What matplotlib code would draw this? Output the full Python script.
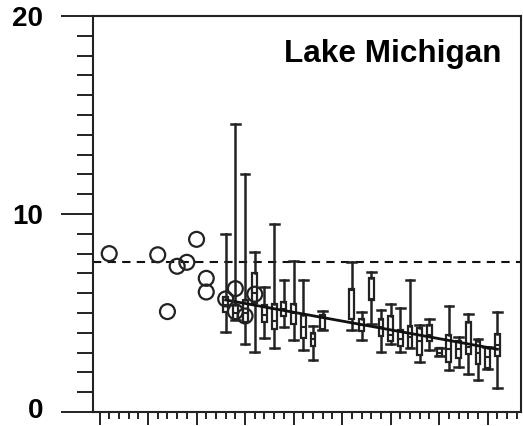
import matplotlib
matplotlib.use("Agg")
import matplotlib.pyplot as plt
from matplotlib.ticker import MultipleLocator
from matplotlib.transforms import ScaledTranslation

plt.rcParams['font.family'] = ['Liberation Sans', 'DejaVu Sans']

# ---- data ----
circle_years = [1976, 1981, 1982, 1983, 1984, 1985, 1986, 1986, 1988, 1989, 1989, 1990, 1991]
circle_values = [8.0, 7.94, 5.07, 7.36, 7.56, 8.72, 6.75, 6.06, 5.71, 6.23, 5.07, 4.85, 5.95]

box_years = [1988, 1989, 1990, 1991, 1992, 1993, 1994, 1995, 1996, 1997, 1998,
             2001, 2002, 2003, 2004, 2005, 2006, 2007, 2008, 2009, 2010,
             2011, 2012, 2013, 2014, 2015, 2016]
box_low = [4.06, 4.65, 3.42, 3.01, 3.72, 3.22, 4.31, 3.64, 3.13, 2.63, 4.14,
           4.12, 3.65, 4.46, 3.03, 3.43, 3.01, 3.23, 2.53, 3.15, 2.84,
           2.14, 2.27, 1.92, 1.63, 2.17, 1.21]
box_q1 = [5.07, 4.65, 4.56, 5.49, 4.56, 4.18, 4.85, 4.44, 3.72, 3.33, 4.14,
          4.70, 4.07, 5.67, 3.86, 3.57, 3.32, 3.23, 2.90, 3.57, 2.84,
          2.53, 2.73, 2.93, 2.44, 2.20, 2.81]
box_med = [5.40, 5.00, 5.00, 6.00, 4.90, 4.60, 5.20, 5.00, 4.30, 3.70, 4.20,
           6.15, 4.40, 5.72, 4.30, 3.90, 3.70, 3.80, 3.60, 3.90, 3.00,
           3.20, 3.20, 3.30, 3.00, 2.80, 3.40]
box_q3 = [5.82, 5.40, 5.66, 7.00, 5.40, 5.45, 5.57, 5.45, 4.90, 4.01, 4.90,
          6.21, 4.70, 6.77, 4.70, 4.83, 4.16, 4.33, 4.24, 4.41, 3.23,
          3.91, 3.57, 4.53, 3.57, 3.25, 3.95]
box_high = [8.97, 14.55, 12.02, 8.07, 6.33, 9.49, 6.67, 7.63, 6.67, 4.36, 5.12,
            7.58, 5.03, 7.05, 5.13, 5.47, 5.25, 6.65, 4.41, 4.71, 3.23,
            5.34, 3.79, 4.95, 3.69, 3.28, 5.05]

trend_years = [1988, 2016]
trend_values = [5.66, 3.17]

reference_level = 7.56
title_text = "Lake Michigan"
y_major_ticks = [0, 10, 20]

# ---- figure ----
fig = plt.figure(figsize=(5.23, 4.26), dpi=100)
ax = fig.add_axes([93/523, 1-412/426, 428/523, 396/426])

stats = []
for lo, q1, med, q3, hi in zip(box_low, box_q1, box_med, box_q3, box_high):
    stats.append(dict(whislo=lo, q1=q1, med=med, q3=q3, whishi=hi, fliers=[]))

ax.bxp(stats, positions=box_years, widths=0.5, capwidths=0.9,
       showfliers=False, patch_artist=True,
       boxprops=dict(facecolor='white', edgecolor='#222222', linewidth=1.6),
       whiskerprops=dict(color='#222222', linewidth=1.8),
       capprops=dict(color='#222222', linewidth=1.8),
       medianprops=dict(color='#222222', linewidth=1.5),
       manage_ticks=False, zorder=3)

ax.plot(trend_years, trend_values, color='#111111', linewidth=2.0, zorder=4)

ax.scatter(circle_years, circle_values, s=115, facecolors='none',
           edgecolors='#222222', linewidths=1.6, zorder=5)

ax.axhline(reference_level, color='#111111', linewidth=1.5,
           linestyle=(0, (4, 3)), zorder=2)

ax.set_xlim(1974.33, 2018.43)
ax.set_ylim(0, 20)

ax.xaxis.set_major_locator(MultipleLocator(5))
ax.xaxis.set_minor_locator(MultipleLocator(1))
ax.set_xticklabels([])
ax.set_yticks(y_major_ticks)
ax.set_yticklabels([str(v) for v in y_major_ticks], fontsize=20, fontweight='bold')
ax.yaxis.set_minor_locator(MultipleLocator(1))

ax.tick_params(axis='y', which='major', direction='out', length=23, width=1.4,
               pad=13, colors='#222222', labelcolor='black')
ax.tick_params(axis='y', which='minor', direction='out', length=11.5, width=1.4,
               colors='#222222')
ax.tick_params(axis='x', which='major', direction='out', length=9.5, width=1.4,
               colors='#222222')
ax.tick_params(axis='x', which='minor', direction='out', length=5, width=1.4,
               colors='#222222')

# nudge the bottom "0" label slightly up so it stays inside the canvas
for lbl in ax.get_yticklabels():
    if lbl.get_text() == '0':
        lbl.set_transform(lbl.get_transform() +
                          ScaledTranslation(0, 3/72, fig.dpi_scale_trans))

for sp in ax.spines.values():
    sp.set_linewidth(1.5)
    sp.set_color('#222222')

ax.text(0.955, 0.885, title_text, transform=ax.transAxes, ha='right',
        va='baseline', fontsize=22.7, fontweight='bold')

fig.savefig('out.png', dpi=100)
